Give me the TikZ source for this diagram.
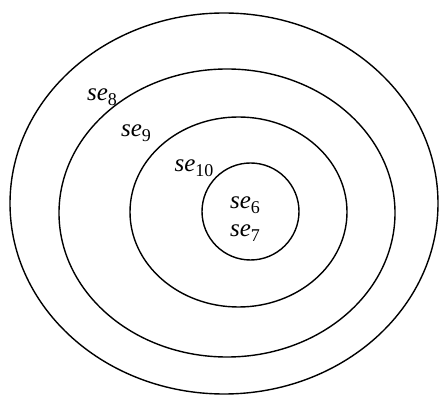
\documentclass[tikz,border=0pt]{standalone}
\usepackage{fontspec}
\setmainfont{Liberation Serif}
\newcommand{\selab}[1]{{\itshape se}\raisebox{-0.2em}{\fontsize{18}{18}\selectfont #1}}
\tikzset{
  ring/.style={draw=black, line width=1.4pt},
  lab/.style={inner sep=0pt, font=\fontsize{25}{27}\selectfont}
}
\begin{document}
\begin{tikzpicture}[x=1pt,y=1pt]
\useasboundingbox (0,0) rectangle (439,-395);
\draw[ring] (224,-203.5) ellipse [x radius=214, y radius=190.5];
\draw[ring] (227,-213) ellipse [x radius=168, y radius=144];
\draw[ring] (238.5,-212) ellipse [x radius=108.5, y radius=95];
\draw[ring] (250.5,-211.5) ellipse [x radius=48.5, y radius=48.5];
\node[lab] (s8) at (102,-97) {\selab{8}};
\node[lab] (s9) at (136,-133) {\selab{9}};
\node[lab] (s10) at (194,-168) {\selab{10}};
\node[lab] (s6) at (245,-205) {\selab{6}};
\node[lab] (s7) at (245,-233) {\selab{7}};
\end{tikzpicture}
\end{document}
